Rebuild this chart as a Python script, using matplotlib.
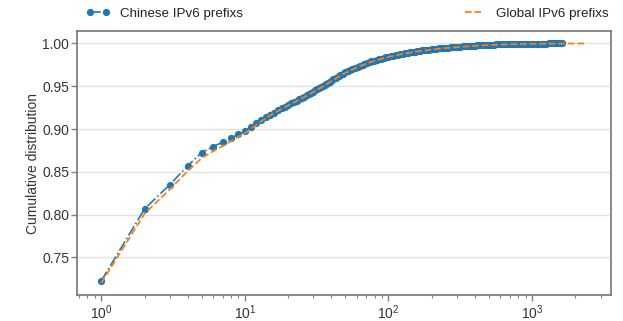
import matplotlib
matplotlib.use("Agg")
import matplotlib.pyplot as plt

plt.rcParams['font.family'] = ['Liberation Sans', 'DejaVu Sans']
plt.rcParams['font.size'] = 10

# Chinese IPv6 prefixes (x = prefix count, y = cumulative distribution)
cn_x = [1, 2, 3, 4, 5, 6, 7, 8, 9, 10, 11, 12, 13, 14,
        15, 16, 17, 18, 19, 20, 21, 22, 23, 24, 25, 26, 27, 28, 29, 30,
        31, 32, 33, 34, 35, 36, 37, 38, 39, 40,
        41, 43, 45, 46, 48, 50, 52, 54, 56, 58, 61, 63, 66, 68, 71,
        74, 76, 79, 83, 86, 89, 93, 96, 100, 104, 108, 112, 116, 121, 126,
        131, 136, 141, 147, 153, 158, 165, 171, 178, 185, 192, 200,
        207, 215, 224, 233, 242, 251, 261, 271, 282, 293, 304, 316,
        329, 341, 355, 369, 383, 398, 414, 430, 447, 464, 482, 501,
        521, 541, 562, 584, 607, 631, 656, 681, 708, 736, 764, 794,
        825, 858, 891, 926, 962, 1000, 1039, 1080, 1122, 1166, 1212, 1259,
        1308, 1360, 1413, 1468, 1525, 1585, 1622]
cn_y = [0.7225, 0.8065, 0.8350, 0.8570, 0.8725, 0.8795, 0.8846, 0.8890,
        0.8940, 0.8975, 0.9026, 0.9065, 0.9102, 0.9140,
        0.9167, 0.9193, 0.9218, 0.9241, 0.9261, 0.9281, 0.9299, 0.9317,
        0.9333, 0.9349, 0.9364, 0.9380, 0.9394, 0.9409, 0.9423, 0.9437,
        0.9451, 0.9464, 0.9478, 0.9491, 0.9504, 0.9517, 0.9529, 0.9542,
        0.9554, 0.9565,
        0.9580, 0.9597, 0.9614, 0.9630, 0.9645, 0.9661, 0.9675, 0.9689,
        0.9703, 0.9715, 0.9728, 0.9740, 0.9751, 0.9761, 0.9772,
        0.9781, 0.9791, 0.9800, 0.9808, 0.9816, 0.9824, 0.9831, 0.9839,
        0.9846, 0.9852, 0.9859, 0.9865, 0.9871, 0.9876, 0.9882,
        0.9887, 0.9892, 0.9897, 0.9901, 0.9906, 0.9910, 0.9914, 0.9918,
        0.9922, 0.9926, 0.9929, 0.9933,
        0.9936, 0.9939, 0.9942, 0.9945, 0.9947, 0.9950, 0.9952, 0.9955,
        0.9957, 0.9959, 0.9962, 0.9964,
        0.9966, 0.9968, 0.9970, 0.9972, 0.9973, 0.9975, 0.9977, 0.9978,
        0.9980, 0.9981, 0.9983, 0.9984,
        0.9985, 0.9987, 0.9988, 0.9989, 0.9990, 0.9991, 0.9992, 0.9992,
        0.9993, 0.9994, 0.9994, 0.9995,
        0.9996, 0.9996, 0.9997, 0.9997, 0.9998, 0.9998, 0.9998, 0.9999,
        0.9999, 0.9999, 0.9999, 0.9999,
        1.0000, 1.0000, 1.0000, 1.0000, 1.0000, 1.0000, 1.0000]

# Global IPv6 prefixes
gl_x = [1, 2, 3, 4, 5, 6, 7, 8, 9, 10, 11, 12, 13, 15, 18, 22, 27, 33, 40,
        50, 63, 79, 100, 126, 158, 200, 251, 316, 398, 501, 631, 794, 1000,
        1413, 2400]
gl_y = [0.7200, 0.8010, 0.8295, 0.8510, 0.8660, 0.8740, 0.8800, 0.8860,
        0.8910, 0.8950, 0.9000, 0.9045, 0.9090, 0.9160, 0.9235, 0.9312,
        0.9390, 0.9472, 0.9560, 0.9655, 0.9735, 0.9795, 0.9842, 0.9878,
        0.9906, 0.9929, 0.9946, 0.9960, 0.9972, 0.9981, 0.9988, 0.9993,
        0.9996, 0.9998, 1.0000]

labels = ['Chinese IPv6 prefixs', 'Global IPv6 prefixs']
yticks = [0.75, 0.80, 0.85, 0.90, 0.95, 1.00]

fig = plt.figure(figsize=(6.23, 3.21), dpi=100)
ax = fig.add_axes([0.1236, 0.081, 0.9807 - 0.1236, 0.9019 - 0.081])

ax.plot(cn_x, cn_y, linestyle='-.', color='#1f77b4', linewidth=1.2,
        marker='o', markersize=4.2, label=labels[0], zorder=2)
ax.plot(gl_x, gl_y, linestyle='--', color='#ff7f0e', linewidth=1.3,
        label=labels[1], zorder=3)

ax.set_xscale('log')
ax.set_yticks(yticks)
ax.set_yticklabels([f'{v:.2f}' for v in yticks])
ax.set_ylabel('Cumulative distribution', color='#333333', labelpad=2)
ax.yaxis.grid(True, color='#e3e3e3', linewidth=1.0)
ax.set_axisbelow(True)

for s in ax.spines.values():
    s.set_color('#808080')
    s.set_linewidth(1.3)
ax.tick_params(axis='both', which='both', colors='#808080', labelcolor='#333333',
               direction='out')
ax.tick_params(axis='both', which='major', length=4, width=1.0)
ax.tick_params(axis='y', which='major', pad=1.5)
ax.tick_params(axis='x', which='major', pad=2)
ax.tick_params(axis='x', which='minor', length=2.5, width=0.8)

fig.legend(loc='center', ncol=2, mode='expand', frameon=False,
           bbox_to_anchor=(0.118, 0.912, 0.878, 0.09), numpoints=2,
           handlelength=1.8, fontsize=9.6, labelcolor='#222222')

fig.savefig('out.png', dpi=100)
